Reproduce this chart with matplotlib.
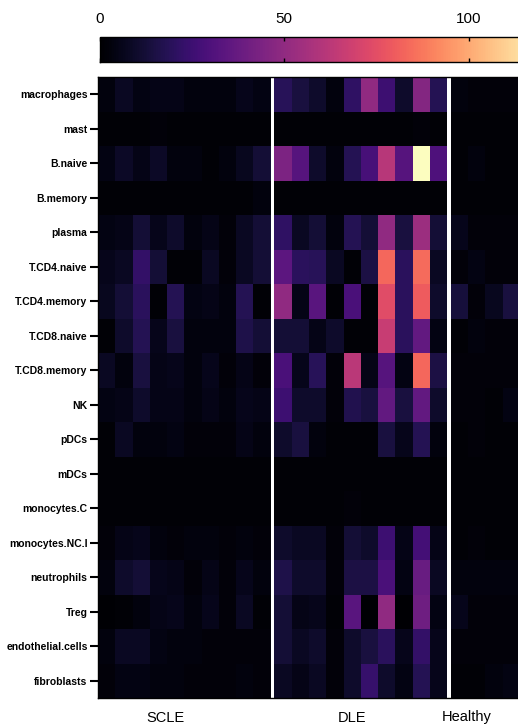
import numpy as np
import matplotlib.pyplot as plt

plt.rcParams['font.family'] = ['Liberation Sans', 'DejaVu Sans']

cell_types = ['macrophages', 'mast', 'B.naive', 'B.memory', 'plasma',
              'T.CD4.naive', 'T.CD4.memory', 'T.CD8.naive', 'T.CD8.memory',
              'NK', 'pDCs', 'mDCs', 'monocytes.C', 'monocytes.NC.I',
              'neutrophils', 'Treg', 'endothelial.cells', 'fibroblasts']

groups = ['SCLE', 'DLE', 'Healthy']

# one row per cell type, one column per sample
scle = [
    [3, 8, 4, 5, 5, 3, 3, 3, 6, 4],
    [1, 1, 1, 2, 1, 1, 1, 1, 1, 1],
    [4, 9, 5, 9, 3, 3, 1, 3, 7, 12],
    [1, 1, 1, 1, 1, 1, 1, 1, 1, 3],
    [4, 5, 12, 6, 10, 3, 5, 2, 8, 12],
    [6, 8, 22, 12, 1, 1, 8, 2, 8, 12],
    [7, 12, 20, 1, 18, 4, 5, 3, 18, 1],
    [1, 10, 18, 6, 14, 3, 3, 3, 16, 12],
    [8, 3, 14, 5, 6, 3, 6, 2, 5, 2],
    [4, 5, 10, 5, 5, 3, 5, 3, 6, 5],
    [1, 8, 3, 3, 4, 2, 2, 2, 5, 3],
    [1, 1, 1, 1, 1, 1, 1, 1, 1, 1],
    [1, 1, 1, 1, 1, 1, 1, 1, 1, 1],
    [2, 5, 6, 3, 2, 3, 3, 2, 3, 2],
    [3, 10, 12, 6, 5, 2, 5, 2, 6, 3],
    [0, 1, 3, 5, 6, 3, 6, 2, 8, 1],
    [3, 8, 8, 4, 3, 3, 2, 2, 2, 2],
    [2, 4, 4, 3, 3, 2, 2, 2, 3, 2],
]

dle = [
    [19, 14, 10, 3, 21, 50, 25, 10, 46, 18],
    [1, 1, 1, 1, 1, 1, 1, 1, 2, 1],
    [44, 32, 10, 3, 18, 28, 61, 32, 122, 30],
    [1, 1, 1, 1, 1, 1, 1, 1, 1, 1],
    [21, 8, 12, 3, 18, 12, 50, 14, 53, 12],
    [34, 20, 19, 8, 1, 15, 83, 20, 84, 8],
    [50, 5, 33, 1, 29, 1, 74, 20, 80, 10],
    [12, 12, 5, 10, 1, 1, 66, 20, 36, 4],
    [29, 6, 19, 2, 62, 5, 32, 4, 83, 15],
    [25, 10, 10, 2, 17, 14, 36, 14, 36, 10],
    [10, 14, 3, 1, 1, 1, 14, 6, 18, 3],
    [1, 1, 1, 1, 1, 1, 1, 1, 1, 1],
    [1, 1, 1, 1, 2, 1, 1, 1, 1, 1],
    [10, 8, 8, 2, 12, 10, 25, 5, 27, 5],
    [16, 10, 10, 2, 15, 15, 29, 4, 38, 8],
    [12, 5, 6, 1, 33, 0, 50, 0, 40, 4],
    [12, 8, 10, 2, 10, 14, 20, 6, 22, 6],
    [8, 5, 8, 2, 10, 23, 10, 4, 18, 6],
]

healthy = [
    [3, 2, 2, 2],
    [1, 1, 1, 1],
    [1, 3, 1, 1],
    [1, 1, 1, 1],
    [6, 2, 2, 2],
    [2, 4, 2, 2],
    [13, 2, 7, 14],
    [1, 3, 2, 2],
    [2, 2, 2, 2],
    [2, 2, 1, 4],
    [1, 2, 1, 1],
    [1, 1, 1, 1],
    [1, 1, 1, 1],
    [1, 2, 1, 1],
    [3, 3, 3, 3],
    [6, 2, 2, 2],
    [2, 2, 2, 2],
    [1, 1, 3, 4],
]

cbar_ticks = [0, 50, 100]
vmax = 122

fig = plt.figure(figsize=(5.18, 7.27), dpi=100)
ax = fig.add_axes([98/518, 29/727, 422/518, 621/727])

gap = 0.23
start = 0
centers = []
for vals in [scle, dle, healthy]:
    arr = np.array(vals)
    n = arr.shape[1]
    xe = np.arange(n + 1) + start
    ye = np.arange(len(cell_types) + 1)
    mesh = ax.pcolormesh(xe, ye, arr, cmap='magma', vmin=0, vmax=vmax)
    centers.append(start + n / 2)
    start += n + gap

ax.set_xlim(0, start - gap)
ax.set_ylim(len(cell_types), 0)
ax.set_yticks(np.arange(len(cell_types)) + 0.5)
ax.set_yticklabels(cell_types, fontsize=7.5, fontweight='bold')
ax.tick_params(axis='y', length=6, width=1.5, pad=1.5)

# group labels sit a bit left of the group centres in the original
label_shift = [-1.1, -0.5, -1.1]
ax.set_xticks([c + s for c, s in zip(centers, label_shift)])
ax.set_xticklabels(groups, fontsize=10.5)
ax.tick_params(axis='x', length=0, pad=9)
for sp in ax.spines.values():
    sp.set_linewidth(1)

# colorbar runs past the right edge of the figure, as in the original
cax = fig.add_axes([100/518, 665/727, vmax * 3.686/518, 25/727])
cb = fig.colorbar(mesh, cax=cax, orientation='horizontal', ticks=cbar_ticks)
cax.tick_params(axis='x', direction='in', top=True, bottom=True,
                labeltop=True, labelbottom=False, length=3, width=1,
                labelsize=11, pad=8)
cb.outline.set_linewidth(1)

fig.savefig('out.png', dpi=100)
